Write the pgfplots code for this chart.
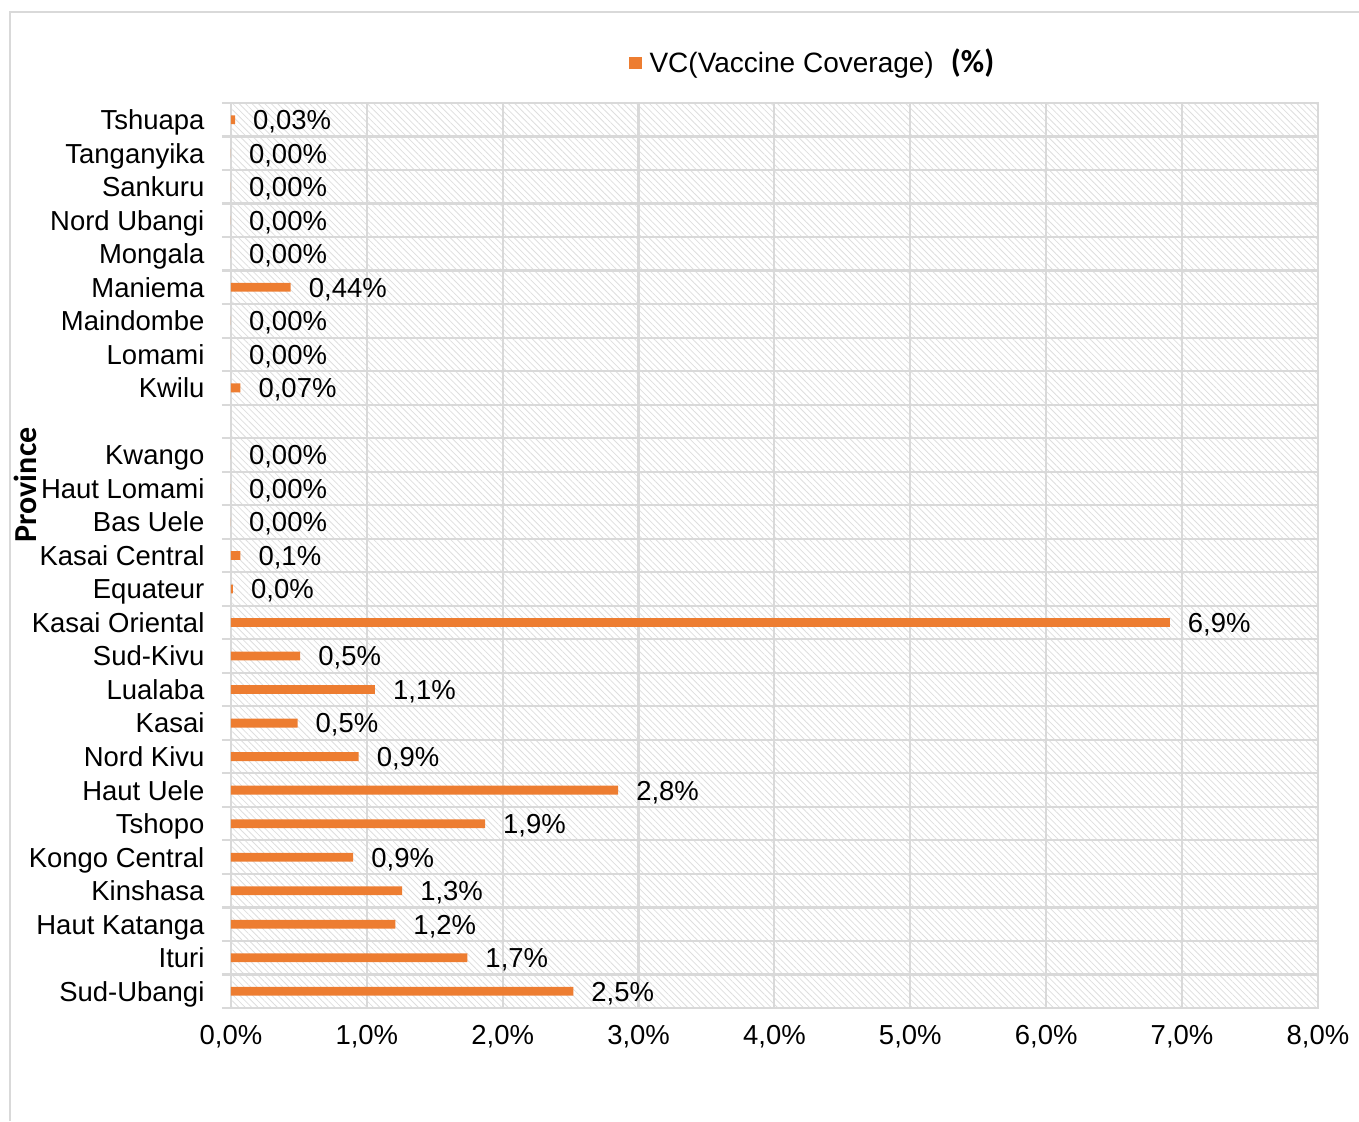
\documentclass[border=0pt]{standalone}
\usepackage{fontspec}
\setmainfont{Liberation Sans}
\newfontfamily\carlito{Carlito}
\usepackage{pgfplots}
\pgfplotsset{compat=1.18}
\usepackage{pgfplotstable}
\usetikzlibrary{patterns.meta}
\definecolor{vcorange}{HTML}{ED7D31}
\definecolor{gridgray}{HTML}{D9D9D9}
\definecolor{hatchgray}{HTML}{DEDEDE}

\pgfplotstableread{
y x lab
0 2.52 2,5\%
1 1.74 1,7\%
2 1.21 1,2\%
3 1.26 1,3\%
4 0.90 0,9\%
5 1.87 1,9\%
6 2.85 2,8\%
7 0.94 0,9\%
8 0.49 0,5\%
9 1.06 1,1\%
10 0.51 0,5\%
11 6.91 6,9\%
12 0.015 0,0\%
13 0.07 0,1\%
14 0 0,00\%
15 0 0,00\%
16 0 0,00\%
18 0.07 0,07\%
19 0 0,00\%
20 0 0,00\%
21 0.44 0,44\%
22 0 0,00\%
23 0 0,00\%
24 0 0,00\%
25 0 0,00\%
26 0.03 0,03\%
}\vcdata

\newcommand{\lblfont}{\fontsize{10.3pt}{12pt}\selectfont}

\begin{document}
\lblfont
\begin{tikzpicture}
\path[use as bounding box] (-86.6pt,-42.4pt) rectangle (423pt,378pt);
\draw[gridgray, line width=0.8pt] (-82.9pt,-42.4pt) -- (-82.9pt,373.5pt) -- (423pt,373.5pt);
\begin{axis}[
  at={(0,0)}, anchor=south west,
  scale only axis, width=407.6pt, height=339.4pt,
  xbar, bar width=3.3pt,
  xmin=0, xmax=8, ymin=-0.5, ymax=26.5,
  axis background/.style={pattern={Lines[angle=-45,distance=1.7pt,line width=0.3pt]}, pattern color=hatchgray},
  axis line style={gridgray, line width=0.8pt},
  tick pos=left,
  tick align=outside,
  xtick={0,...,8},
  xticklabels={{0,0\%},{1,0\%},{2,0\%},{3,0\%},{4,0\%},{5,0\%},{6,0\%},{7,0\%},{8,0\%}},
  xmajorgrids,
  major grid style={gridgray, line width=0.8pt},
  major tick length=0pt,
  ytick={0,...,26},
  yticklabels={Sud-Ubangi,Ituri,Haut Katanga,Kinshasa,Kongo Central,Tshopo,Haut Uele,Nord Kivu,Kasai,Lualaba,Sud-Kivu,Kasai Oriental,Equateur,Kasai Central,Bas Uele,Haut Lomami,Kwango,{},Kwilu,Lomami,Maindombe,Maniema,Mongala,Nord Ubangi,Sankuru,Tanganyika,Tshuapa},
  minor ytick={-0.5,0.5,...,26.5},
  yminorgrids,
  minor grid style={gridgray, line width=0.8pt},
  minor tick style={gridgray, line width=0.8pt},
  minor tick length=3.4pt,
  yticklabel style={font=\lblfont, anchor=base east, inner sep=0pt, xshift=-9.75pt, yshift=-3.7pt},
  xticklabel style={font=\lblfont, anchor=base, inner sep=0pt, yshift=-13.8pt},
  ylabel={\carlito\bfseries\fontsize{12pt}{14pt}\selectfont Province},
  ylabel style={at={(axis description cs:-0.1895,0.578)}, anchor=center},
  point meta=explicit symbolic,
  nodes near coords={\pgfplotspointmeta},
  nodes near coords style={font=\lblfont, anchor=base west, inner sep=0pt, xshift=6.6pt, yshift=-3.7pt, text=black},
  legend style={at={(axis description cs:0.366,1.044)}, anchor=west, draw=none, fill=none, inner sep=0pt, font=\fontsize{10.5pt}{12pt}\selectfont, legend cell align=left},
  legend image code/.code={\fill[vcorange] (0pt,-2.4pt) rectangle (4.8pt,2.4pt);},
]
\addplot[fill=vcorange, draw=none] table[x=x, y=y, meta=lab] {\vcdata};
\addlegendentry{\hspace{0.8pt}VC(Vaccine Coverage)\hspace{3.5pt} {\carlito\bfseries\fontsize{12pt}{14pt}\selectfont (\%)}}
\end{axis}
\end{tikzpicture}
\end{document}
